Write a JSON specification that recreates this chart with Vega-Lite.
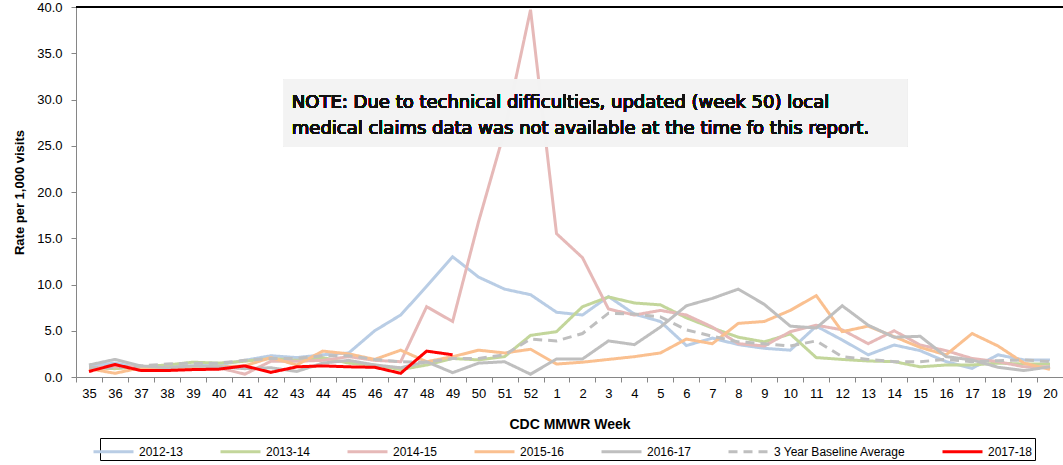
{
  "$schema": "https://vega.github.io/schema/vega-lite/v6.json",
  "width": 987,
  "height": 370,
  "autosize": {"type": "none"},
  "padding": {"left": 76, "top": 7, "right": 0, "bottom": 88},
  "background": "white",
  "config": {
    "view": {"stroke": null},
    "font": "Liberation Sans",
    "axis": {"labelFont": "Liberation Sans", "titleFont": "Liberation Sans", "labelColor": "#000000", "titleColor": "#000000"},
    "legend": {
      "title": null, "orient": "none", "legendX": 24, "legendY": 431, "direction": "horizontal", "columns": 7,
      "symbolType": "M-2,0H2", "symbolSize": 400, "symbolStrokeWidth": 3, "labelFont": "Liberation Sans",
      "labelFontSize": 12, "labelColor": "#000000", "labelOffset": 14, "columnPadding": 30,
      "strokeColor": "#000000", "fillColor": "#FFFFFF", "padding": 2
    }
  },
  "data": {
    "values": [
      {"week": "35", "2012-13": 1.2, "2013-14": 1.0, "2014-15": 1.0, "2015-16": 0.9, "2016-17": 1.3, "3 Year Baseline Average": 1.0, "2017-18": 0.6},
      {"week": "36", "2012-13": 1.5, "2013-14": 0.9, "2014-15": 1.1, "2015-16": 0.4, "2016-17": 1.9, "3 Year Baseline Average": 1.0, "2017-18": 1.35},
      {"week": "37", "2012-13": 1.0, "2013-14": 1.1, "2014-15": 1.1, "2015-16": 1.0, "2016-17": 1.2, "3 Year Baseline Average": 1.2, "2017-18": 0.7},
      {"week": "38", "2012-13": 1.1, "2013-14": 1.3, "2014-15": 1.0, "2015-16": 1.0, "2016-17": 1.0, "3 Year Baseline Average": 1.4, "2017-18": 0.7},
      {"week": "39", "2012-13": 1.2, "2013-14": 1.6, "2014-15": 1.1, "2015-16": 1.0, "2016-17": 1.2, "3 Year Baseline Average": 1.5, "2017-18": 0.8},
      {"week": "40", "2012-13": 1.3, "2013-14": 1.5, "2014-15": 1.0, "2015-16": 1.1, "2016-17": 1.1, "3 Year Baseline Average": 1.5, "2017-18": 0.85},
      {"week": "41", "2012-13": 1.8, "2013-14": 1.7, "2014-15": 0.3, "2015-16": 1.2, "2016-17": 0.9, "3 Year Baseline Average": 1.8, "2017-18": 1.2},
      {"week": "42", "2012-13": 2.3, "2013-14": 2.0, "2014-15": 1.7, "2015-16": 2.1, "2016-17": 1.0, "3 Year Baseline Average": 2.0, "2017-18": 0.5},
      {"week": "43", "2012-13": 2.1, "2013-14": 1.8, "2014-15": 1.7, "2015-16": 1.3, "2016-17": 0.6, "3 Year Baseline Average": 2.0, "2017-18": 1.1},
      {"week": "44", "2012-13": 2.4, "2013-14": 2.1, "2014-15": 1.8, "2015-16": 2.8, "2016-17": 1.5, "3 Year Baseline Average": 2.3, "2017-18": 1.2},
      {"week": "45", "2012-13": 2.6, "2013-14": 1.5, "2014-15": 2.2, "2015-16": 2.5, "2016-17": 1.8, "3 Year Baseline Average": 2.3, "2017-18": 1.1},
      {"week": "46", "2012-13": 5.0, "2013-14": 1.3, "2014-15": 1.8, "2015-16": 1.9, "2016-17": 1.3, "3 Year Baseline Average": 1.9, "2017-18": 1.05},
      {"week": "47", "2012-13": 6.7, "2013-14": 0.8, "2014-15": 1.65, "2015-16": 2.9, "2016-17": 1.0, "3 Year Baseline Average": 1.65, "2017-18": 0.4},
      {"week": "48", "2012-13": 9.8, "2013-14": 1.3, "2014-15": 7.6, "2015-16": 1.65, "2016-17": 1.65, "3 Year Baseline Average": 1.6, "2017-18": 2.8},
      {"week": "49", "2012-13": 13.0, "2013-14": 2.0, "2014-15": 6.0, "2015-16": 2.2, "2016-17": 0.47, "3 Year Baseline Average": 2.0, "2017-18": 2.4},
      {"week": "50", "2012-13": 10.8, "2013-14": 1.85, "2014-15": 16.8, "2015-16": 2.9, "2016-17": 1.5, "3 Year Baseline Average": 2.0},
      {"week": "51", "2012-13": 9.5, "2013-14": 2.2, "2014-15": 26.6, "2015-16": 2.6, "2016-17": 1.65, "3 Year Baseline Average": 2.4},
      {"week": "52", "2012-13": 8.9, "2013-14": 4.5, "2014-15": 39.7, "2015-16": 3.0, "2016-17": 0.3, "3 Year Baseline Average": 4.1},
      {"week": "1", "2012-13": 7.0, "2013-14": 4.9, "2014-15": 15.5, "2015-16": 1.4, "2016-17": 1.95, "3 Year Baseline Average": 3.9},
      {"week": "2", "2012-13": 6.7, "2013-14": 7.6, "2014-15": 12.9, "2015-16": 1.6, "2016-17": 1.95, "3 Year Baseline Average": 4.7},
      {"week": "3", "2012-13": 8.7, "2013-14": 8.65, "2014-15": 7.35, "2015-16": 1.9, "2016-17": 3.9, "3 Year Baseline Average": 6.9},
      {"week": "4", "2012-13": 6.8, "2013-14": 8.0, "2014-15": 6.7, "2015-16": 2.2, "2016-17": 3.5, "3 Year Baseline Average": 6.8},
      {"week": "5", "2012-13": 6.0, "2013-14": 7.8, "2014-15": 7.2, "2015-16": 2.6, "2016-17": 5.4, "3 Year Baseline Average": 6.5},
      {"week": "6", "2012-13": 3.4, "2013-14": 6.4, "2014-15": 6.7, "2015-16": 4.1, "2016-17": 7.7, "3 Year Baseline Average": 5.1},
      {"week": "7", "2012-13": 4.2, "2013-14": 5.3, "2014-15": 5.4, "2015-16": 3.6, "2016-17": 8.5, "3 Year Baseline Average": 4.4},
      {"week": "8", "2012-13": 3.5, "2013-14": 4.3, "2014-15": 3.6, "2015-16": 5.8, "2016-17": 9.5, "3 Year Baseline Average": 3.8},
      {"week": "9", "2012-13": 3.1, "2013-14": 3.8, "2014-15": 3.35, "2015-16": 6.0, "2016-17": 7.85, "3 Year Baseline Average": 3.6},
      {"week": "10", "2012-13": 2.9, "2013-14": 4.65, "2014-15": 4.9, "2015-16": 7.2, "2016-17": 5.5, "3 Year Baseline Average": 3.35},
      {"week": "11", "2012-13": 5.5, "2013-14": 2.1, "2014-15": 5.6, "2015-16": 8.8, "2016-17": 5.3, "3 Year Baseline Average": 3.9},
      {"week": "12", "2012-13": 4.0, "2013-14": 1.9, "2014-15": 5.1, "2015-16": 4.9, "2016-17": 7.7, "3 Year Baseline Average": 2.2},
      {"week": "13", "2012-13": 2.4, "2013-14": 1.73, "2014-15": 3.6, "2015-16": 5.5, "2016-17": 5.6, "3 Year Baseline Average": 1.9},
      {"week": "14", "2012-13": 3.46, "2013-14": 1.66, "2014-15": 5.0, "2015-16": 4.36, "2016-17": 4.3, "3 Year Baseline Average": 1.66},
      {"week": "15", "2012-13": 2.85, "2013-14": 1.1, "2014-15": 3.46, "2015-16": 3.2, "2016-17": 4.4, "3 Year Baseline Average": 1.66},
      {"week": "16", "2012-13": 1.66, "2013-14": 1.3, "2014-15": 2.85, "2015-16": 2.4, "2016-17": 2.2, "3 Year Baseline Average": 1.9},
      {"week": "17", "2012-13": 0.94, "2013-14": 1.3, "2014-15": 2.0, "2015-16": 4.7, "2016-17": 1.84, "3 Year Baseline Average": 1.66},
      {"week": "18", "2012-13": 2.4, "2013-14": 1.5, "2014-15": 1.66, "2015-16": 3.35, "2016-17": 1.05, "3 Year Baseline Average": 1.77},
      {"week": "19", "2012-13": 1.84, "2013-14": 1.4, "2014-15": 1.1, "2015-16": 1.5, "2016-17": 0.7, "3 Year Baseline Average": 1.84},
      {"week": "20", "2012-13": 1.84, "2013-14": 1.4, "2014-15": 1.1, "2015-16": 0.83, "2016-17": 1.1, "3 Year Baseline Average": 1.66}
    ]
  },
  "layer": [
    {
      "mark": {"type": "rule", "color": "#000000", "strokeWidth": 1},
      "encoding": {"y": {"datum": 40, "type": "quantitative"}}
    },
    {
      "transform": [
        {"fold": ["2012-13", "2013-14", "2014-15", "2015-16", "2016-17", "3 Year Baseline Average", "2017-18"], "as": ["series", "rate"]},
        {"filter": "datum.rate != null"}
      ],
      "mark": {"type": "line", "strokeWidth": 3, "strokeJoin": "miter", "strokeCap": "butt"},
      "encoding": {
        "x": {
          "field": "week", "type": "ordinal", "bandPosition": 0.5,
          "scale": {"type": "band", "paddingInner": 0, "paddingOuter": 0,
            "domain": ["35","36","37","38","39","40","41","42","43","44","45","46","47","48","49","50","51","52","1","2","3","4","5","6","7","8","9","10","11","12","13","14","15","16","17","18","19","20"]},
          "axis": {
            "title": "CDC MMWR Week", "titleFontSize": 14, "titleFontWeight": "bold", "titlePadding": 17,
            "labelAngle": 0, "labelFontSize": 13, "labelPadding": 5, "tickBand": "extent",
            "tickSize": 5, "tickColor": "#868686", "domainColor": "#868686", "grid": false
          }
        },
        "y": {
          "field": "rate", "type": "quantitative",
          "scale": {"domain": [0, 40], "nice": false},
          "axis": {
            "title": "Rate per 1,000 visits", "titleFontSize": 13, "titleFontWeight": "bold", "titlePadding": 10,
            "values": [0, 5, 10, 15, 20, 25, 30, 35, 40], "format": ".1f",
            "labelFontSize": 13, "labelPadding": 9, "tickSize": 5, "tickColor": "#868686",
            "domainColor": "#868686", "gridColor": "#868686", "gridWidth": 1
          }
        },
        "color": {
          "field": "series", "type": "nominal",
          "scale": {
            "domain": ["2012-13", "2013-14", "2014-15", "2015-16", "2016-17", "3 Year Baseline Average", "2017-18"],
            "range": ["#B9CDE5", "#C3D69B", "#E6B9B8", "#FAC090", "#BFBFBF", "#BFBFBF", "#FF0000"]
          },
          "legend": {}
        },
        "strokeDash": {
          "field": "series", "type": "nominal",
          "scale": {
            "domain": ["2012-13", "2013-14", "2014-15", "2015-16", "2016-17", "3 Year Baseline Average", "2017-18"],
            "range": [[1, 0], [1, 0], [1, 0], [1, 0], [1, 0], [9, 6], [1, 0]]
          },
          "legend": {}
        },
        "strokeWidth": {"condition": {"test": "datum.series === '3 Year Baseline Average'", "value": 4}, "value": 3}
      }
    },
    {
      "mark": {"type": "rect", "fill": "#F2F2F2", "opacity": 0.85},
      "encoding": {
        "x": {"datum": "43", "type": "ordinal", "bandPosition": 0},
        "x2": {"datum": "14", "bandPosition": 1},
        "y": {"datum": 32.2, "type": "quantitative"},
        "y2": {"datum": 24.9}
      }
    },
    {
      "mark": {"type": "text", "align": "left", "baseline": "middle", "dx": 8, "fontSize": 18, "font": "DejaVu Sans", "fontWeight": "normal", "lineHeight": 26, "color": "#111111"},
      "encoding": {
        "x": {"datum": "43", "type": "ordinal", "bandPosition": 0},
        "y": {"datum": 29.6, "type": "quantitative"},
        "text": {"value": ["NOTE: Due to technical difficulties,  updated  (week 50) local", "medical claims data was not available  at the time fo this report."]}
      }
    }
  ]
}
